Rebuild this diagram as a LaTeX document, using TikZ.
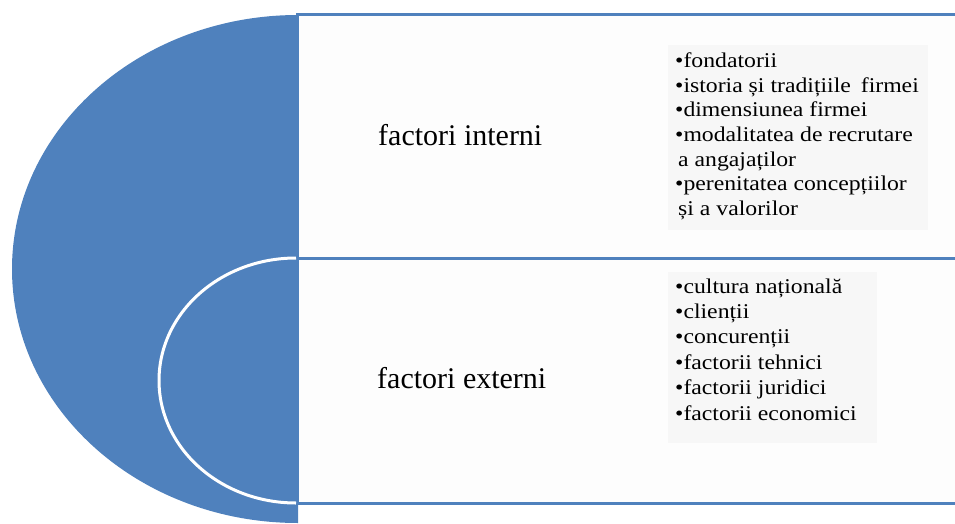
\documentclass[tikz,border=0pt]{standalone}
\usepackage{fontspec}
\setmainfont{Liberation Serif}
\newfontfamily\itemfont[FakeStretch=1.13]{Liberation Serif}
\definecolor{ofblue}{RGB}{79,129,189}
\definecolor{boxbg}{RGB}{253,253,253}
\definecolor{textshade}{RGB}{247,247,247}
\tikzset{
  boxline/.style={draw=ofblue, line width=3pt},
  label/.style={font=\fontsize{30}{32}\selectfont, inner sep=0pt, anchor=base west},
  item/.style={font=\itemfont\fontsize{21}{24}\selectfont, inner sep=0pt, anchor=base west},
}
\begin{document}
\begin{tikzpicture}[x=1pt,y=-1pt]
\useasboundingbox (0,0) rectangle (955,524);
% boxes
\fill[boxbg] (297,15) rectangle (955,503);
\fill[textshade] (668,45) rectangle (928,230);
\fill[textshade] (668,272) rectangle (877,443);
\draw[boxline] (960,15) -- (297,15) -- (297,503) -- (960,503);
\draw[boxline] (297,258) -- (960,258);
% blue half disc
\begin{scope}
  \clip (0,0) rectangle (298,524);
  \fill[ofblue] (298,269) ellipse [x radius=286pt, y radius=254pt];
\end{scope}
% white inner arc
\draw[white, line width=3pt] (296,258) arc[start angle=90, end angle=270, x radius=137pt, y radius=122.5pt];
% labels
\node[label] (int) at (378,145) {factori interni};
\node[label] (ext) at (377,388) {factori externi};
% internal factors
\node[item] (i1) at (675,68) {•fondatorii};
\node[item] (i2) at (675,92.5) {•istoria și tradițiile\hspace{4pt} firmei};
\node[item] (i3) at (675,117) {•dimensiunea firmei};
\node[item] (i4) at (675,141.5) {•modalitatea de recrutare};
\node[item] (i5) at (678,166) {a angajaților};
\node[item] (i6) at (675,190.5) {•perenitatea concepțiilor};
\node[item] (i7) at (678,215) {și a valorilor};
% external factors
\node[item] (e1) at (675,293) {•cultura națională};
\node[item] (e2) at (675,318.4) {•clienții};
\node[item] (e3) at (675,343.8) {•concurenții};
\node[item] (e4) at (675,369.2) {•factorii tehnici};
\node[item] (e5) at (675,394.6) {•factorii juridici};
\node[item] (e6) at (675,420) {•factorii economici};
\end{tikzpicture}
\end{document}
